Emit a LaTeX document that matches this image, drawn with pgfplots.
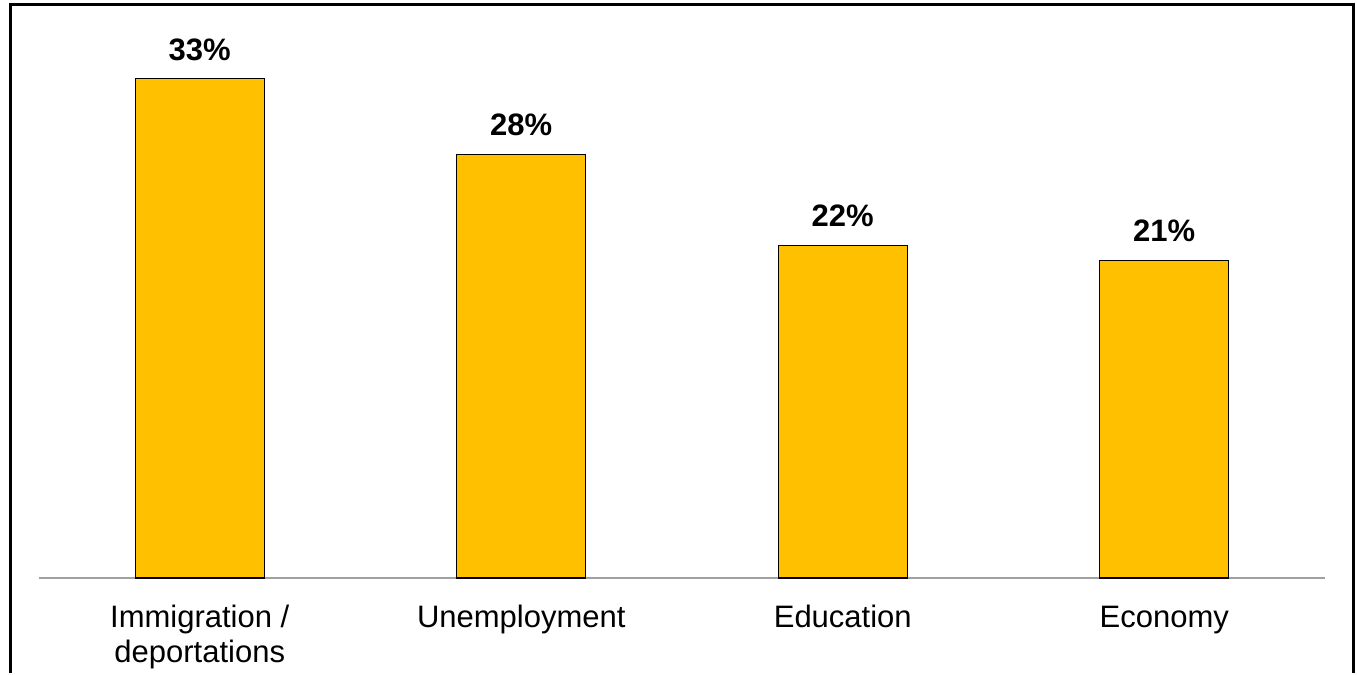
\documentclass[border=0pt]{standalone}
\usepackage{fontspec}
\setmainfont{Liberation Sans}
\usepackage{pgfplots}
\pgfplotsset{compat=1.18}
\definecolor{bargold}{HTML}{FFC000}
\definecolor{axisgray}{HTML}{A0A0A0}
\begin{document}
\begin{tikzpicture}
\begin{axis}[
  scale only axis,
  width=643pt, height=287.5pt,
  xmin=-0.5, xmax=3.5, ymin=0, ymax=38,
  axis x line=bottom, axis y line=none,
  x axis line style={draw=axisgray, line width=1pt, -},
  xtick=data,
  xticklabels={{\strut Immigration /\\deportations},{\strut Unemployment},{\strut Education},{\strut Economy}},
  major tick length=0pt,
  xticklabel style={font=\fontsize{15.5}{17.5}\selectfont, align=center, anchor=north, inner sep=0pt, yshift=-12.5pt},
  ybar, bar width=64.5pt, bar shift=0pt,
  nodes near coords={\textbf{\pgfmathprintnumber[assume math mode=true]{\pgfplotspointmeta}\%}},
  every node near coord/.append style={font=\fontsize{15.5}{17.5}\selectfont, anchor=base, inner sep=0pt, yshift=9.25pt},
  clip=false,
]
\addplot[fill=bargold, draw=black, line width=0.6pt] coordinates {(0,33) (1,28) (2,22) (3,21)};
\coordinate (bl) at (rel axis cs:0,0);
\coordinate (tr) at (rel axis cs:1,1);
\end{axis}
\coordinate (fbl) at ([xshift=-14.25pt, yshift=-47.5pt]bl);
\coordinate (ftr) at ([xshift=14pt, yshift=-0.75pt]tr);
\draw[line width=1.5pt, black] (fbl) -- (fbl |- ftr) -- (ftr) -- (ftr |- fbl);
\useasboundingbox ([xshift=-19.5pt, yshift=-47.5pt]bl) rectangle ([xshift=16pt, yshift=1.5pt]tr);
\end{tikzpicture}
\end{document}
